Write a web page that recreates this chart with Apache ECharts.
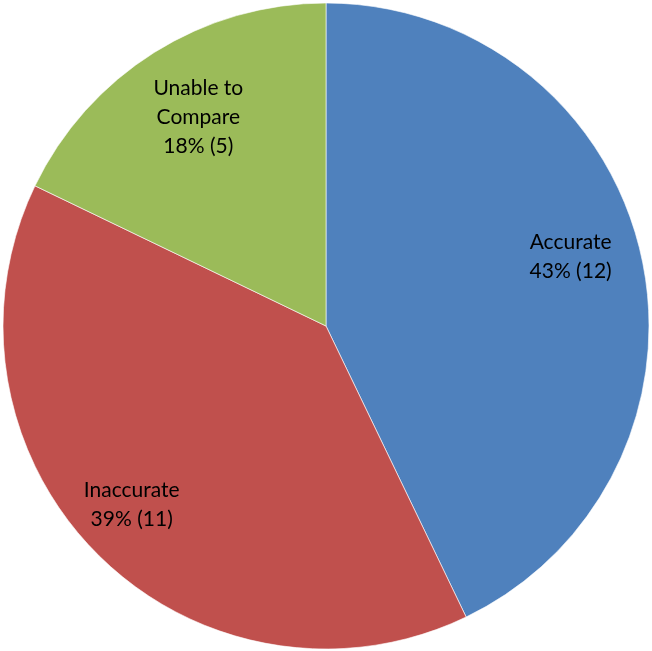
<!DOCTYPE html>
<html><head><meta charset="utf-8">
<script src="https://cdn.jsdelivr.net/npm/echarts@6/dist/echarts.min.js"></script>
<style>html,body{margin:0;padding:0;background:#fff}#c{width:652px;height:651px}</style>
</head><body><div id="c"></div>
<script>
const categories = ['Accurate', 'Inaccurate', 'Unable to\nCompare'];
const values = [12, 11, 5];
const colors = ['#4F81BD', '#C0504D', '#9BBB59'];
const labelOffsets = [[-4, -13], [-14, -2], [8, 7]];
const total = values.reduce((a, b) => a + b, 0);
const chart = echarts.init(document.getElementById('c'));
chart.setOption({
  animation: false,
  series: [{
    type: 'pie', center: [326, 326], radius: [0, 323], startAngle: 90, clockwise: true,
    data: categories.map((n, i) => ({ name: n, value: values[i], itemStyle: { color: colors[i] } })),
    label: { show: false }, labelLine: { show: false },
    itemStyle: { borderColor: 'rgba(255,255,255,0.6)', borderWidth: 1 }, silent: true
  }, {
    type: 'pie', center: [326, 326], radius: [181, 323], startAngle: 90, clockwise: true,
    data: categories.map((n, i) => ({ name: n, value: values[i], label: { offset: labelOffsets[i] } })),
    itemStyle: { color: 'rgba(0,0,0,0)' }, silent: true,
    label: {
      show: true, position: 'inside', color: '#000', fontFamily: 'Lato', fontSize: 21, lineHeight: 29,
      formatter: p => p.name + '\n' + Math.round(p.value / total * 100) + '% (' + p.value + ')'
    }
  }]
});
</script></body></html>
